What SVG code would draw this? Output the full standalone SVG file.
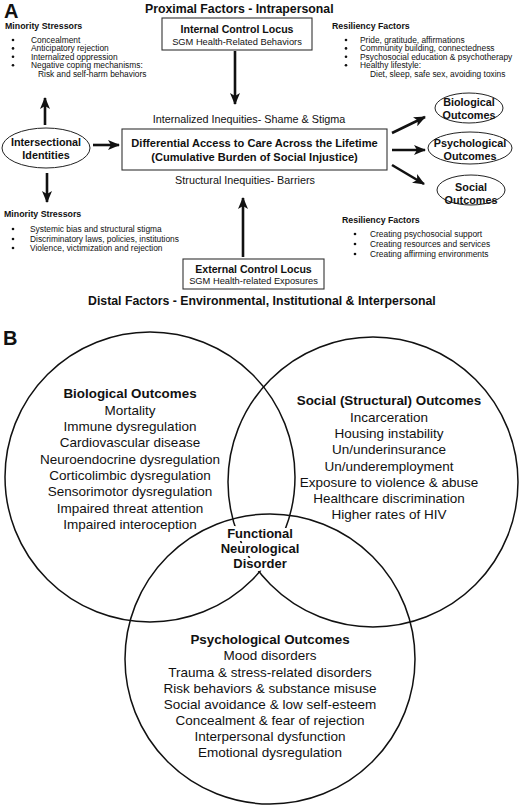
<svg xmlns="http://www.w3.org/2000/svg" width="523" height="807" viewBox="0 0 523 807">
<defs>
<marker id="ah" viewBox="0 0 12 10" refX="11" refY="5" markerWidth="12" markerHeight="10" markerUnits="userSpaceOnUse" orient="auto">
<path d="M0,0 L12,5 L0,10 L3,5 Z" fill="#111"/>
</marker>
<style>
text{font-family:"Liberation Sans",Arial,Helvetica,sans-serif;fill:#111}
.h{font-weight:bold;font-size:12.3px}
.lbl{font-weight:bold;font-size:20px}
.sub{font-weight:bold;font-size:8.8px}
.li{font-size:8.4px}
.bx{fill:#fff;stroke:#333;stroke-width:1.1}
.bt{font-weight:bold;font-size:10.6px;text-anchor:middle}
.bs{font-size:9.3px;text-anchor:middle}
.mid{font-size:10.8px;text-anchor:middle}
.el{fill:#fff;stroke:#222;stroke-width:1}
.arr{stroke:#111;stroke-width:2.6;fill:none;marker-end:url(#ah)}
.vc{fill:none;stroke:#111;stroke-width:1.5}
.vh{font-weight:bold;font-size:13.4px;text-anchor:middle}
.vt{font-size:13.5px;text-anchor:middle}
.dot{fill:#111}
.fnd{font-weight:bold;font-size:13px;text-anchor:middle;stroke:#fff;stroke-width:6;stroke-linejoin:round;paint-order:stroke}
</style>
</defs>
<rect width="523" height="807" fill="#fff"/>

<g id="panelA">
<text class="lbl" x="4" y="18">A</text>
<text class="h" x="145" y="13">Proximal Factors - Intrapersonal</text>
<text class="h" x="88" y="305">Distal Factors - Environmental, Institutional &amp; Interpersonal</text>
</g>

<g id="minority-top">
<text class="sub" x="5" y="29">Minority Stressors</text>
<g class="dot"><circle cx="13" cy="40" r="1.3"/><circle cx="13" cy="48.4" r="1.3"/><circle cx="13" cy="56.8" r="1.3"/><circle cx="13" cy="65.2" r="1.3"/></g>
<text class="li" x="31" y="43">Concealment</text>
<text class="li" x="31" y="51.4">Anticipatory rejection</text>
<text class="li" x="31" y="59.8">Internalized oppression</text>
<text class="li" x="31" y="68.2">Negative coping mechanisms:</text>
<text class="li" x="38" y="76.6">Risk and self-harm behaviors</text>
</g>

<g id="internal-locus">
<rect class="bx" x="162" y="18" width="150" height="32"/>
<text class="bt" x="237" y="33">Internal Control Locus</text>
<text class="bs" x="237" y="45">SGM Health-Related Behaviors</text>
</g>

<g id="resiliency-top">
<text class="sub" x="332" y="29">Resiliency Factors</text>
<g class="dot"><circle cx="346" cy="40" r="1.3"/><circle cx="346" cy="48.4" r="1.3"/><circle cx="346" cy="56.8" r="1.3"/><circle cx="346" cy="65.2" r="1.3"/></g>
<text class="li" x="360" y="43">Pride, gratitude, affirmations</text>
<text class="li" x="360" y="51.4">Community building, connectedness</text>
<text class="li" x="360" y="59.8">Psychosocial education &amp; psychotherapy</text>
<text class="li" x="360" y="68.2">Healthy lifestyle:</text>
<text class="li" x="370" y="76.6">Diet, sleep, safe sex, avoiding toxins</text>
</g>

<g id="intersectional">
<ellipse class="el" cx="46" cy="148" rx="44" ry="20"/>
<text class="bt" x="46" y="146" style="font-size:10.8px">Intersectional</text>
<text class="bt" x="46" y="159" style="font-size:10.8px">Identities</text>
</g>

<g id="center-box">
<text class="mid" x="249" y="123">Internalized Inequities- Shame &amp; Stigma</text>
<rect class="bx" x="122" y="129" width="265" height="41"/>
<text class="bt" x="254.5" y="147" style="font-size:11.1px">Differential Access to Care Across the Lifetime</text>
<text class="bt" x="254.5" y="161" style="font-size:11.1px">(Cumulative Burden of Social Injustice)</text>
<text class="mid" x="245" y="184">Structural Inequities- Barriers</text>
</g>

<g id="bio-outcome">
<ellipse class="el" cx="469" cy="108" rx="34" ry="15"/>
<text class="bt" x="469" y="106" style="font-size:10.8px">Biological</text>
<text class="bt" x="469" y="119" style="font-size:10.8px">Outcomes</text>
</g>
<g id="psych-outcome">
<ellipse class="el" cx="470" cy="148" rx="42" ry="16"/>
<text class="bt" x="470" y="147" style="font-size:10.8px">Psychological</text>
<text class="bt" x="470" y="160" style="font-size:10.8px">Outcomes</text>
</g>
<g id="social-outcome">
<ellipse class="el" cx="471" cy="190" rx="34" ry="15"/>
<text class="bt" x="471" y="191" style="font-size:10.8px">Social</text>
<text class="bt" x="471" y="204" style="font-size:10.8px">Outcomes</text>
</g>

<g id="minority-bottom">
<text class="sub" x="4" y="217">Minority Stressors</text>
<g class="dot"><circle cx="13" cy="229" r="1.3"/><circle cx="13" cy="239" r="1.3"/><circle cx="13" cy="248" r="1.3"/></g>
<text class="li" x="30" y="232">Systemic bias and structural stigma</text>
<text class="li" x="30" y="242">Discriminatory laws, policies, institutions</text>
<text class="li" x="30" y="251">Violence, victimization and rejection</text>
</g>

<g id="resiliency-bottom">
<text class="sub" x="342" y="223">Resiliency Factors</text>
<g class="dot"><circle cx="355" cy="234" r="1.3"/><circle cx="355" cy="244" r="1.3"/><circle cx="355" cy="254" r="1.3"/></g>
<text class="li" x="370" y="237">Creating psychosocial support</text>
<text class="li" x="370" y="247">Creating resources and services</text>
<text class="li" x="370" y="257">Creating affirming environments</text>
</g>

<g id="external-locus">
<rect class="bx" x="183" y="259" width="141" height="30"/>
<text class="bt" x="253.5" y="273">External Control Locus</text>
<text class="bs" x="253.5" y="284">SGM Health-related Exposures</text>
</g>

<g id="connectors">
<line class="arr" x1="235" y1="51" x2="235" y2="104"/>
<line class="arr" x1="243" y1="257" x2="243" y2="198"/>
<line class="arr" x1="93" y1="145" x2="119" y2="145"/>
<line class="arr" x1="45" y1="125" x2="45" y2="98"/>
<line class="arr" x1="47" y1="173" x2="47" y2="202"/>
<line class="arr" x1="392" y1="133" x2="425" y2="117"/>
<line class="arr" x1="392" y1="150" x2="425" y2="150"/>
<line class="arr" x1="392" y1="165" x2="424" y2="184"/>
</g>

<g id="panelB">
<text class="lbl" x="3" y="345">B</text>
</g>

<g id="venn-circles">
<circle class="vc" cx="150" cy="477" r="145"/>
<circle class="vc" cx="373" cy="482" r="145"/>
<circle class="vc" cx="270" cy="659" r="145"/>
</g>

<g id="biological">
<text class="vh" x="130" y="398">Biological Outcomes</text>
<text class="vt" x="130" y="414.5">Mortality</text>
<text class="vt" x="130" y="431">Immune dysregulation</text>
<text class="vt" x="130" y="447">Cardiovascular disease</text>
<text class="vt" x="130" y="463.5">Neuroendocrine dysregulation</text>
<text class="vt" x="130" y="480">Corticolimbic dysregulation</text>
<text class="vt" x="130" y="496">Sensorimotor dysregulation</text>
<text class="vt" x="130" y="512.5">Impaired threat attention</text>
<text class="vt" x="130" y="529">Impaired interoception</text>
</g>

<g id="social">
<text class="vh" x="389" y="405">Social (Structural) Outcomes</text>
<text class="vt" x="389" y="421.5">Incarceration</text>
<text class="vt" x="389" y="438">Housing instability</text>
<text class="vt" x="389" y="454">Un/underinsurance</text>
<text class="vt" x="389" y="470.5">Un/underemployment</text>
<text class="vt" x="389" y="487">Exposure to violence &amp; abuse</text>
<text class="vt" x="389" y="503">Healthcare discrimination</text>
<text class="vt" x="389" y="519">Higher rates of HIV</text>
</g>

<g id="fnd">
<text class="fnd" x="260" y="538">Functional</text>
<text class="fnd" x="260" y="553">Neurological</text>
<text class="fnd" x="260" y="568">Disorder</text>
</g>

<g id="psychological">
<text class="vh" x="270" y="644">Psychological Outcomes</text>
<text class="vt" x="270" y="660">Mood disorders</text>
<text class="vt" x="270" y="676.5">Trauma &amp; stress-related disorders</text>
<text class="vt" x="270" y="692.5">Risk behaviors &amp; substance misuse</text>
<text class="vt" x="270" y="708.5">Social avoidance &amp; low self-esteem</text>
<text class="vt" x="270" y="724.5">Concealment &amp; fear of rejection</text>
<text class="vt" x="270" y="741">Interpersonal dysfunction</text>
<text class="vt" x="270" y="757">Emotional dysregulation</text>
</g>
</svg>
